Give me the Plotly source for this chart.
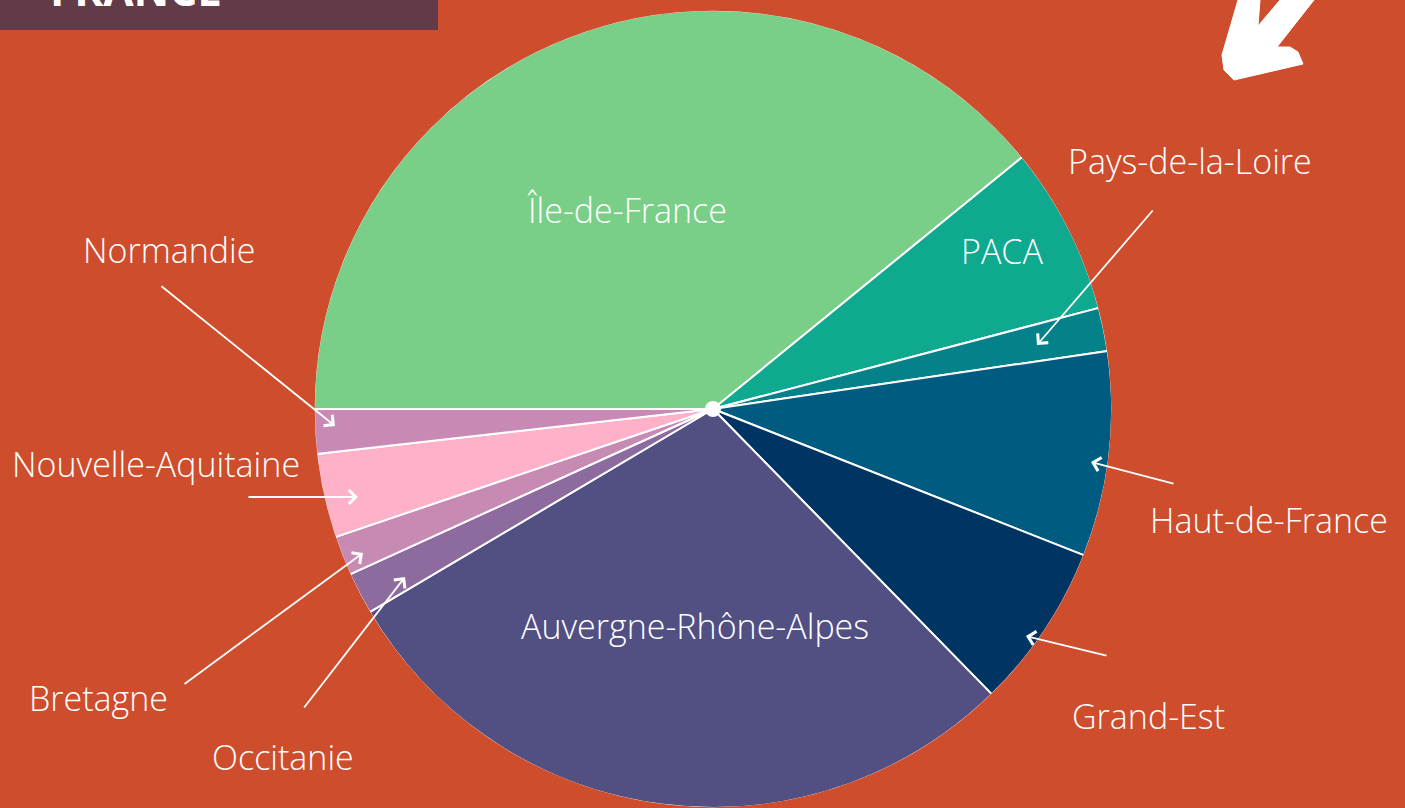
import plotly.graph_objects as go

W, H = 1405, 808

# Regions and their share (percent), in slice order clockwise from 9 o'clock
regions = [
    "Île-de-France", "PACA", "Pays-de-la-Loire", "Haut-de-France", "Grand-Est",
    "Auvergne-Rhône-Alpes", "Occitanie", "Bretagne", "Nouvelle-Aquitaine", "Normandie",
]
shares = [39.1, 6.8, 1.75, 8.3, 6.7, 28.8, 1.7, 1.6, 3.4, 1.8]
colors = [
    "#79CF87", "#0EA98F", "#05818A", "#005B80", "#003462",
    "#524F83", "#8D6B9E", "#C68AB3", "#FFB1CA", "#C88AB5",
]

# Label placement in page pixels (centre of text)
inside_labels = {
    "Île-de-France": (627, 210),
    "PACA": (1002, 251),
    "Auvergne-Rhône-Alpes": (695, 626),
}
outside_labels = {
    "Normandie": ((169, 250), (160, 285), (335, 426)),
    "Nouvelle-Aquitaine": ((156, 464), (247, 497), (358, 497)),
    "Bretagne": ((98, 698), (183, 685), (363, 553)),
    "Occitanie": ((283, 757), (303, 709), (405, 577)),
    "Pays-de-la-Loire": ((1190, 161), (1154, 209), (1037, 345)),
    "Haut-de-France": ((1269, 520), (1175, 484), (1091, 462)),
    "Grand-Est": ((1148, 716), (1108, 656), (1026, 636)),
}

BG = "#CE4D2C"
FONT = "Open Sans"
LABEL_SIZE = 34


def px(x, y):
    # page pixels -> paper coordinates
    return x / W, 1 - y / H


cx, cy, r = 713, 409, 399

fig = go.Figure()

fig.add_trace(
    go.Pie(
        labels=regions,
        values=shares,
        sort=False,
        direction="clockwise",
        rotation=270,
        marker=dict(colors=colors, line=dict(color="white", width=2)),
        textinfo="none",
        hoverinfo="label+percent",
        showlegend=False,
        domain=dict(
            x=[(cx - r) / W, (cx + r) / W],
            y=[1 - (cy + r) / H, 1 - (cy - r) / H],
        ),
    )
)

annotations = []
for name, (x, y) in inside_labels.items():
    ax_, ay_ = px(x, y)
    annotations.append(dict(
        x=ax_, y=ay_, xref="paper", yref="paper", text=name, showarrow=False,
        font=dict(family=FONT, size=LABEL_SIZE, color="white", weight=300),
        xanchor="center", yanchor="middle",
    ))

for name, ((lx, ly), (tx, ty), (hx, hy)) in outside_labels.items():
    ax_, ay_ = px(lx, ly)
    annotations.append(dict(
        x=ax_, y=ay_, xref="paper", yref="paper", text=name, showarrow=False,
        font=dict(family=FONT, size=LABEL_SIZE, color="white", weight=300),
        xanchor="center", yanchor="middle",
    ))
    hxp, hyp = px(hx, hy)
    annotations.append(dict(
        x=hxp, y=hyp, xref="paper", yref="paper", text="",
        showarrow=True, ax=tx - hx, ay=ty - hy,
        arrowhead=4, arrowsize=1.5, arrowwidth=1.8, arrowcolor="white",
    ))

# Title tab, mostly cut off at the top of the page
tx_, ty_ = px(136, -11)
annotations.append(dict(
    x=tx_, y=ty_, xref="paper", yref="paper", text="<b>FRANCE</b>",
    showarrow=False, font=dict(family=FONT, size=44, color="white"),
    xanchor="center", yanchor="middle",
))

shapes = []
x0, y1 = px(0, 0)
x1, y0 = px(438, 30)
shapes.append(dict(type="rect", xref="paper", yref="paper", x0=x0, y0=y0, x1=x1, y1=y1,
                   fillcolor="#633A48", line=dict(width=0), layer="below"))

# Hide the white outer rim of the pie (reference has only inner separators)
o0x, o0y = px(cx - r - 0.5, cy + r + 0.5)
o1x, o1y = px(cx + r + 0.5, cy - r - 0.5)
shapes.append(dict(type="circle", xref="paper", yref="paper",
                   x0=o0x, y0=o0y, x1=o1x, y1=o1y,
                   fillcolor="rgba(0,0,0,0)", line=dict(color=BG, width=2.5)))

# Hand-drawn white arrow in the top right corner
arrow_pts = [
    (1238, 0), (1222, 55), (1224, 70), (1234, 80), (1303, 64), (1298, 52),
    (1290, 47), (1277, 47), (1314, 0), (1280, 0), (1258, 26), (1260, 0),
]
path = ""
for i, (x, y) in enumerate(arrow_pts):
    xp, yp = px(x, y)
    path += ("M" if i == 0 else "L") + f"{xp:.5f},{yp:.5f} "
path += "Z"
shapes.append(dict(type="path", xref="paper", yref="paper", path=path,
                   fillcolor="white", line=dict(color="white", width=1)))

# Small white dot at the pie centre
d0x, d0y = px(cx - 8, cy + 8)
d1x, d1y = px(cx + 8, cy - 8)
shapes.append(dict(type="circle", xref="paper", yref="paper",
                   x0=d0x, y0=d0y, x1=d1x, y1=d1y,
                   fillcolor="white", line=dict(color="white", width=0)))

fig.update_layout(
    width=W, height=H,
    margin=dict(l=0, r=0, t=0, b=0),
    paper_bgcolor=BG, plot_bgcolor=BG,
    annotations=annotations,
    shapes=shapes,
    font=dict(family=FONT),
)

fig.write_html(
    "out.html",
    config={"displayModeBar": False},
    post_script="document.body.style.margin='0';",
)
